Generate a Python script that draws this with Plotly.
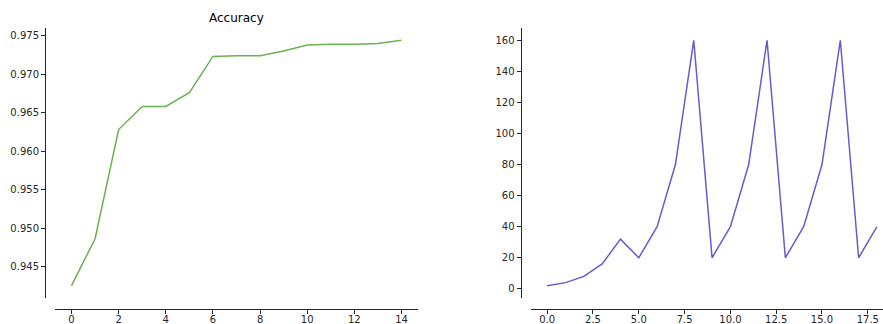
import plotly.graph_objects as go

W, H = 883, 324

acc_x = list(range(15))
acc_y = [0.9425, 0.9486, 0.9628, 0.9658, 0.9658, 0.9676, 0.9723, 0.9724,
         0.9724, 0.9730, 0.9738, 0.9739, 0.9739, 0.9740, 0.9744]
acc_title = "Accuracy"

lr_x = list(range(19))
lr_y = [2, 4, 8, 16, 32, 20, 40, 80, 160, 20, 40, 80, 160, 20, 40, 80, 160, 20, 40]

acc_yticks = [0.945, 0.950, 0.955, 0.960, 0.965, 0.970, 0.975]
acc_xticks = [0, 2, 4, 6, 8, 10, 12, 14]
lr_yticks = [0, 20, 40, 60, 80, 100, 120, 140, 160]
lr_xticks = [0.0, 2.5, 5.0, 7.5, 10.0, 12.5, 15.0, 17.5]

GREEN = "#6ab24f"
PURPLE = "#6a5acd"
INK = "#262626"


def px(x):
    return x / W


def py(y):
    return 1 - y / H


fig = go.Figure()
fig.add_trace(go.Scatter(x=acc_x, y=acc_y, mode="lines",
                         line=dict(color=GREEN, width=1.5),
                         xaxis="x", yaxis="y", showlegend=False))
fig.add_trace(go.Scatter(x=lr_x, y=lr_y, mode="lines",
                         line=dict(color=PURPLE, width=1.5),
                         xaxis="x2", yaxis="y2", showlegend=False))

axis_common = dict(showgrid=False, zeroline=False, showline=True,
                   automargin=False,
                   linecolor=INK, linewidth=1, ticks="outside", ticklen=4,
                   tickwidth=1, tickcolor=INK,
                   tickfont=dict(family="DejaVu Sans", size=10, color=INK))

ydom = [py(298), py(28)]

fig.update_layout(
    width=W, height=H,
    margin=dict(l=0, r=0, t=0, b=0, autoexpand=False),
    paper_bgcolor="white", plot_bgcolor="white",
    xaxis=dict(domain=[px(55), px(418)], anchor="free", position=py(308.5),
               range=[-0.7, 14.7], tickvals=acc_xticks, ticklabelstandoff=-3,
               ticktext=[str(v) for v in acc_xticks], **axis_common),
    yaxis=dict(domain=ydom, anchor="free", position=px(45),
               range=[0.9409, 0.9760], tickvals=acc_yticks,
               ticktext=[f"{v:.3f}" for v in acc_yticks], **axis_common),
    xaxis2=dict(domain=[px(530.7), 1.0], anchor="free", position=py(308.5),
                range=[-0.9, 18.33], tickvals=lr_xticks, ticklabelstandoff=-3,
                ticktext=[f"{v:.1f}" for v in lr_xticks], **axis_common),
    yaxis2=dict(domain=ydom, anchor="free", position=px(520.5),
                range=[-5.9, 167.9], tickvals=lr_yticks,
                ticktext=[str(v) for v in lr_yticks], **axis_common),
    annotations=[dict(text=acc_title, x=px(236.5), y=py(17.5), xref="paper",
                      yref="paper", showarrow=False, xanchor="center",
                      yanchor="middle",
                      font=dict(family="DejaVu Sans", size=12, color="black"))],
)

fig.write_html("out.html")
